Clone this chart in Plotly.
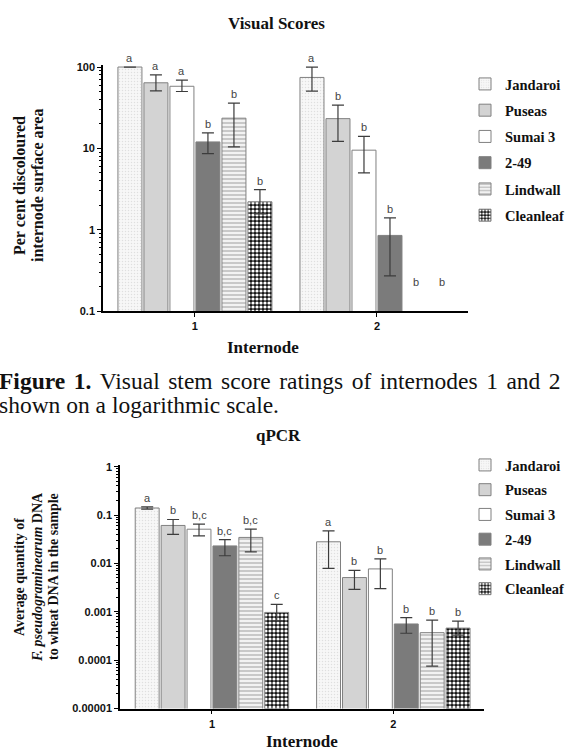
import math
import plotly.graph_objects as go

W, H = 569, 751

# ---------------- data ----------------
internodes = ["1", "2"]
cultivars = ["Jandaroi", "Puseas", "Sumai 3", "2-49", "Lindwall", "Cleanleaf"]

# Visual scores: per cent discoloured internode surface area (None = no bar)
vis_mean_in1 = [100, 64, 58, 12, 23.5, 2.2]
vis_upper_in1 = [100, 80, 69, 15.5, 36, 3.1]
vis_lower_in1 = [100, 51, 50, 8.6, 10.4, 1.56]
vis_mean_in2 = [74.5, 23.2, 9.5, 0.85, None, None]
vis_upper_in2 = [100, 34, 14, 1.4, None, None]
vis_lower_in2 = [50.6, 12.2, 5.0, 0.27, None, None]
vis_letters_in1 = ["a", "a", "a", "b", "b", "b"]
vis_letters_in2 = ["a", "b", "b", "b", "b", "b"]

# qPCR: F. pseudograminearum DNA / wheat DNA
q_mean_in1 = [0.14, 0.061, 0.051, 0.023, 0.0345, 0.00097]
q_upper_in1 = [0.148, 0.081, 0.065, 0.031, 0.051, 0.00142]
q_lower_in1 = [0.132, 0.040, 0.037, 0.0144, 0.0174, 0.00065]
q_mean_in2 = [0.028, 0.0051, 0.0077, 0.00056, 0.00037, 0.00046]
q_upper_in2 = [0.047, 0.0072, 0.0124, 0.00076, 0.00067, 0.00064]
q_lower_in2 = [0.0079, 0.0029, 0.0030, 0.00036, 0.000075, 0.00033]
q_letters_in1 = ["a", "b", "b,c", "b,c", "b,c", "c"]
q_letters_in2 = ["a", "b", "b", "b", "b", "b"]

vis_ticks = [0.1, 1, 10, 100]
vis_ticktext = ["0.1", "1", "10", "100"]
q_ticks = [0.00001, 0.0001, 0.001, 0.01, 0.1, 1]
q_ticktext = ["0.00001", "0.0001", "0.001", "0.01", "0.1", "1"]

# ---------------- style ----------------
SERIF = "Liberation Serif"
SANS = "Liberation Sans"
OUTLINE = "#808080"
styles = [
    dict(color="#f3f3f3", pattern=dict(shape=".", fgcolor="#c8c8c8", bgcolor="#f7f7f7", size=3, solidity=0.2)),
    dict(color="#d3d3d3"),
    dict(color="#ffffff"),
    dict(color="#7b7b7b"),
    dict(color="#eeeeee", pattern=dict(shape="-", fgcolor="#8a8a8a", bgcolor="#f2f2f2", size=4, solidity=0.4)),
    dict(color="#151515", pattern=dict(shape=".", fillmode="overlay", fgcolor="#ffffff", fgopacity=1,
                                       size=4, solidity=0.5)),
]
BARGAP = 0.143
BARGROUPGAP = 0.077


def px_x(p):
    return p / W


def px_y(p):
    return 1 - p / H


fig = go.Figure()
annotations = []


def add_chart(xref, yref, legend, mean1, up1, lo1, mean2, up2, lo2, let1, let2, floor_log):
    for j, name in enumerate(cultivars):
        means = [mean1[j], mean2[j]]
        ups = [up1[j], up2[j]]
        los = [lo1[j], lo2[j]]
        plus, minus = [], []
        for m, u, l in zip(means, ups, los):
            if m is None or (u == m and l == m):
                plus.append(None)
                minus.append(None)
            else:
                plus.append(u - m)
                minus.append(m - l)
        st = styles[j]
        marker = dict(color=st["color"], line=dict(color=OUTLINE, width=1))
        if "pattern" in st:
            marker["pattern"] = st["pattern"]
        fig.add_trace(go.Bar(
            x=internodes, y=means, name=name, xaxis=xref, yaxis=yref,
            legend=legend, legendgroup=legend + name,
            marker=marker,
            error_y=dict(type="data", symmetric=False, array=plus, arrayminus=minus,
                         color="#3c3c3c", thickness=1.2, width=6),
        ))
        for i, (m, u, lab) in enumerate(zip(means, ups, [let1[j], let2[j]])):
            xpos = i + (j - 2.5) * (1 - BARGAP) / len(cultivars)
            ypos = math.log10(u) if m is not None else floor_log + 0.24
            annotations.append(dict(
                x=xpos, y=ypos, xref=xref, yref=yref, text=lab, showarrow=False,
                yanchor="bottom", yshift=1,
                font=dict(family=SANS, size=11, color="#444444")))


add_chart("x", "y", "legend", vis_mean_in1, vis_upper_in1, vis_lower_in1,
          vis_mean_in2, vis_upper_in2, vis_lower_in2, vis_letters_in1, vis_letters_in2, -1)
add_chart("x2", "y2", "legend2", q_mean_in1, q_upper_in1, q_lower_in1,
          q_mean_in2, q_upper_in2, q_lower_in2, q_letters_in1, q_letters_in2, -5)


def minor_vals(lo_exp, hi_exp):
    return [k * 10 ** e for e in range(lo_exp, hi_exp) for k in range(2, 10)]


tickfont = dict(family=SANS, size=11, color="#111111", weight="bold")
common_y = dict(type="log", showgrid=False, zeroline=False, showline=True, linecolor="black",
                linewidth=1.6, ticks="outside", ticklen=4, tickwidth=1.3, tickcolor="black",
                tickfont=tickfont, tickmode="array")
common_x = dict(type="category", showgrid=False, zeroline=False, showline=True, linecolor="black",
                linewidth=1.6, ticks="outside", ticklen=4, tickwidth=1.3, tickcolor="black",
                tickfont=tickfont)
legend_font = dict(family=SERIF, size=14.5, color="#111111", weight="bold")

fig.update_layout(
    width=W, height=H, autosize=False,
    margin=dict(l=0, r=0, t=0, b=0, autoexpand=False),
    paper_bgcolor="white", plot_bgcolor="white",
    barmode="group", bargap=BARGAP, bargroupgap=BARGROUPGAP,
    xaxis=dict(domain=[px_x(103), px_x(468)], range=[-0.505, 1.5], anchor="y", **common_x),
    yaxis=dict(domain=[px_y(311), px_y(65)], range=[-1, 2.025], anchor="x",
               tickvals=vis_ticks, ticktext=vis_ticktext,
               minor=dict(tickmode="array", tickvals=minor_vals(-1, 2), ticks="outside",
                          ticklen=2, tickcolor="black", tickwidth=1), **common_y),
    xaxis2=dict(domain=[px_x(120), px_x(484)], range=[-0.507, 1.5], anchor="y2", **common_x),
    yaxis2=dict(domain=[px_y(708.5), px_y(465)], range=[-5, 0.035], anchor="x2",
                tickvals=q_ticks, ticktext=q_ticktext,
                minor=dict(tickmode="array", tickvals=minor_vals(-5, 0), ticks="outside",
                           ticklen=2, tickcolor="black", tickwidth=1), **common_y),
    legend=dict(x=px_x(465), y=px_y(68), xanchor="left", yanchor="top", font=legend_font,
                traceorder="grouped", tracegroupgap=4.4, bgcolor="rgba(0,0,0,0)"),
    legend2=dict(x=px_x(465), y=px_y(449), xanchor="left", yanchor="top", font=legend_font,
                 traceorder="grouped", tracegroupgap=2.9, bgcolor="rgba(0,0,0,0)"),
    showlegend=True,
)

title_font = dict(family=SERIF, size=17, color="#111111", weight="bold")


def paper_text(text, x, y, font, xanchor="center", angle=0):
    annotations.append(dict(text=text, x=px_x(x), y=px_y(y), xref="paper", yref="paper",
                            showarrow=False, xanchor=xanchor, yanchor="middle",
                            textangle=angle, font=font))


paper_text("Visual Scores", 276, 23, title_font)
paper_text("Internode", 263, 347, title_font)
paper_text("qPCR", 278, 435, title_font)
paper_text("Internode", 302, 741, title_font)

ytitle_top = dict(family=SERIF, size=16, color="#111111", weight="bold")
paper_text("Per cent discoloured", 19, 186, ytitle_top, angle=-90)
paper_text("internode surface area", 37, 186, ytitle_top, angle=-90)

ytitle_low = dict(family=SERIF, size=14, color="#111111", weight="bold")
paper_text("Average quantity of", 19, 577, ytitle_low, angle=-90)
paper_text("<i>F. pseudograminearum</i> DNA", 37, 577, ytitle_low, angle=-90)
paper_text("to wheat DNA in the sample", 53, 577, ytitle_low, angle=-90)

cap_font = dict(family=SERIF, size=23.5, color="#111111")
caption_line1 = "<b>Figure 1.</b> Visual stem score ratings of internodes 1 and 2"
caption_line2 = "shown on a logarithmic scale."
# justified first line: slightly wider inter-word spaces
wide_space = '<span style="font-size:34px"> </span>'
paper_text(caption_line1.replace(" ", wide_space), -3, 377, cap_font, xanchor="left")
paper_text(caption_line2, -3, 405, cap_font, xanchor="left")

fig.update_layout(annotations=annotations)
fig.write_html("out.html", config={"displayModeBar": False},
               post_script="document.body.style.margin='0';document.body.style.overflow='hidden';")
